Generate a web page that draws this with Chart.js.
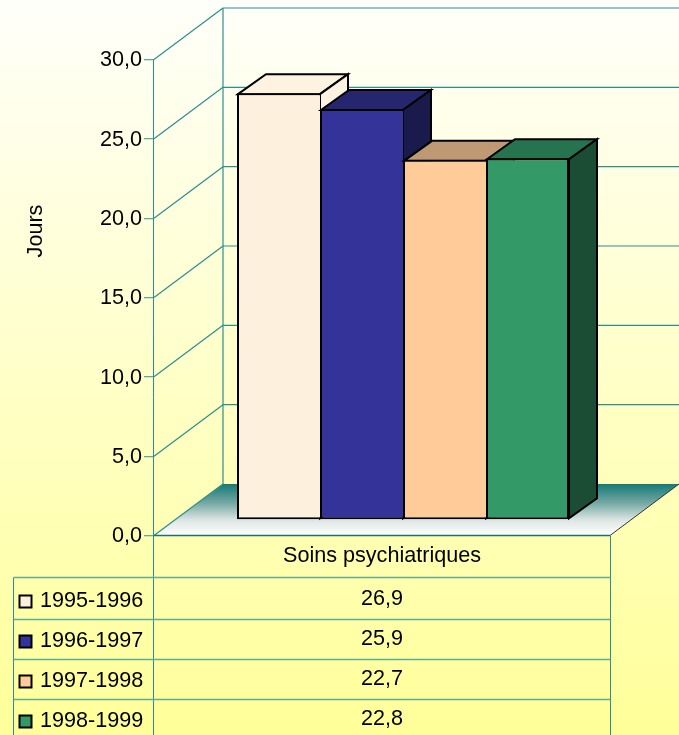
<!DOCTYPE html>
<html>
<head>
<meta charset="utf-8">
<style>
html,body{margin:0;padding:0;width:679px;height:735px;overflow:hidden;background:linear-gradient(to bottom,#FFFFFA 0%,#FFFF99 100%);}
canvas{display:block;}
</style>
<script src="https://cdn.jsdelivr.net/npm/chart.js@4"></script>
</head>
<body>
<canvas id="c" width="679" height="735"></canvas>
<script>
const categories = ['Soins psychiatriques'];
const seriesLabels = ['1995-1996','1996-1997','1997-1998','1998-1999'];
const values1995 = [26.9];
const values1996 = [25.9];
const values1997 = [22.7];
const values1998 = [22.8];
const yTitle = 'Jours';

const seriesValues = [values1995, values1996, values1997, values1998];
const frontColors = ['#FDF1DE','#333399','#FFCC99','#339966'];
const topColors   = ['#FDF3E0','#26266F','#BF9973','#267350'];
const sideColors  = ['#FDF3E0','#1A1A4D','#80664D','#1A4D33'];

const FAMILY = '"Liberation Sans", Arial, sans-serif';
const SIZE = 21.6;
const FONT = SIZE + 'px ' + FAMILY;
const TEAL = '#2A8F8F';
const TABLE = '#5FAA98';
const WALL_DX = 69, WALL_DY = -51.5;    // depth of the chart box
const BAR_DX = 28, BAR_DY = -20;        // depth of one bar
const SHIFT_X = 21, SHIFT_Y = -15.5;    // bars stand mid-way on the floor
const fmt = v => v.toFixed(1).replace('.', ',');

function line(ctx, x1, y1, x2, y2) {
  ctx.beginPath(); ctx.moveTo(x1, y1); ctx.lineTo(x2, y2); ctx.stroke();
}
function poly(ctx, pts, fill) {
  ctx.beginPath();
  pts.forEach((p, i) => i ? ctx.lineTo(p[0], p[1]) : ctx.moveTo(p[0], p[1]));
  ctx.closePath();
  ctx.fillStyle = fill; ctx.fill();
  ctx.strokeStyle = '#000'; ctx.lineWidth = 2; ctx.lineJoin = 'miter'; ctx.stroke();
}
function drawFaces(chart, i) {
  const { ctx } = chart;
  chart.getDatasetMeta(i).data.forEach(b => {
    const l = b.x - b.width / 2, r = b.x + b.width / 2;
    const t = b.y, bot = b.base;
    poly(ctx, [[l + 1, t + 1], [l + 1 + BAR_DX, t + 1 + BAR_DY], [r + BAR_DX, t + 1 + BAR_DY], [r, t + 1]], topColors[i]);
    poly(ctx, [[r, t + 1], [r + BAR_DX, t + 1 + BAR_DY], [r + BAR_DX, bot - 1 + BAR_DY], [r, bot - 1]], sideColors[i]);
  });
}

const box3d = {
  id: 'box3d',
  beforeDatasetsDraw(chart) {
    const { ctx, chartArea: a, scales: { y } } = chart;
    ctx.save();
    const y0 = y.getPixelForValue(0);
    // floor
    const g = ctx.createLinearGradient(0, y0 + WALL_DY, 0, y0);
    g.addColorStop(0, '#167A78');
    g.addColorStop(0.35, '#6FA5A0');
    g.addColorStop(0.7, '#DDE6E4');
    g.addColorStop(1, '#FFFFFF');
    ctx.beginPath();
    ctx.moveTo(a.left, y0);
    ctx.lineTo(a.left + WALL_DX, y0 + WALL_DY);
    ctx.lineTo(a.right + WALL_DX, y0 + WALL_DY);
    ctx.lineTo(a.right, y0);
    ctx.closePath();
    ctx.fillStyle = g; ctx.fill();
    // walls
    ctx.strokeStyle = TEAL; ctx.lineWidth = 1.2;
    y.ticks.forEach(t => {
      const p = y.getPixelForValue(t.value);
      if (t.value !== 0) {
        line(ctx, a.left, p, a.left + WALL_DX, p + WALL_DY);
        line(ctx, a.left + WALL_DX, p + WALL_DY, a.right + WALL_DX, p + WALL_DY);
      }
    });
    line(ctx, a.left + WALL_DX, a.top + WALL_DY, a.left + WALL_DX, y0 + WALL_DY);
    line(ctx, a.left, y0, a.left + WALL_DX, y0 + WALL_DY);
    ctx.strokeStyle = '#333'; ctx.lineWidth = 1;
    line(ctx, a.right, y0, a.right + WALL_DX, y0 + WALL_DY);
    ctx.restore();
    // the bars stand inside the box, painted left to right so that each hides the previous side
    ctx.save();
    ctx.translate(SHIFT_X, SHIFT_Y);
    seriesLabels.forEach((s, i) => {
      drawFaces(chart, i);
      chart.getDatasetMeta(i).controller.draw();
    });
    ctx.restore();
    return false;
  },
  afterDraw(chart) {
    const { ctx, chartArea: a, scales: { y } } = chart;
    const H = chart.height;
    const y0 = y.getPixelForValue(0);
    const rows = [577.5, 619.5, 659.5, 699.5];
    const swatchTops = [595.5, 635.5, 675.5, 715.5];
    const labelYs = [601, 641, 681, 721];
    const valueYs = [599.5, 639.5, 679.5, 719.5];
    const tableLeft = 13.5;
    ctx.save();
    // bottom edge of the floor
    ctx.strokeStyle = '#1F6F6B'; ctx.lineWidth = 1.6;
    line(ctx, a.left, y0, a.right, y0);
    // axis and table frame
    ctx.strokeStyle = TEAL; ctx.lineWidth = 1;
    line(ctx, a.left - 0.5, a.top, a.left - 0.5, H);
    line(ctx, a.right + 0.5, y0, a.right + 0.5, H);
    line(ctx, tableLeft, rows[0], tableLeft, H);
    ctx.strokeStyle = TABLE; ctx.lineWidth = 1.3;
    rows.forEach(r => line(ctx, tableLeft, r, a.right + 0.5, r));
    // table content
    ctx.font = FONT; ctx.textBaseline = 'middle';
    seriesLabels.forEach((s, i) => {
      ctx.fillStyle = frontColors[i];
      ctx.strokeStyle = '#000'; ctx.lineWidth = 2;
      ctx.fillRect(19.5, swatchTops[i], 12, 12);
      ctx.strokeRect(19.5, swatchTops[i], 12, 12);
      ctx.fillStyle = '#000';
      ctx.textAlign = 'left';
      ctx.fillText(s, 40, labelYs[i]);
      ctx.textAlign = 'center';
      ctx.fillText(fmt(seriesValues[i][0]), (a.left + a.right) / 2, valueYs[i]);
    });
    // axis title
    ctx.translate(36, 231);
    ctx.rotate(-Math.PI / 2);
    ctx.textAlign = 'center';
    ctx.fillText(yTitle, 0, 0);
    ctx.restore();
  }
};

new Chart(document.getElementById('c'), {
  type: 'bar',
  data: {
    labels: categories,
    datasets: seriesLabels.map((s, i) => ({
      label: s,
      data: seriesValues[i],
      backgroundColor: frontColors[i],
      borderColor: '#000',
      borderWidth: { top: 2, left: 2, bottom: 2, right: i === seriesLabels.length - 1 ? 2 : 0 },
      borderSkipped: false,
      clip: false
    }))
  },
  plugins: [box3d],
  options: {
    responsive: false,
    animation: false,
    devicePixelRatio: 1,
    layout: { padding: { left: 0, top: 59.5, right: 69, bottom: 0 } },
    datasets: { bar: { categoryPercentage: 332 / 456, barPercentage: 1 } },
    plugins: { legend: { display: false }, tooltip: { enabled: false }, title: { display: false } },
    scales: {
      x: {
        afterFit: s => { s.height = 199.5; },
        grid: { display: false },
        border: { display: false },
        ticks: { color: '#000', font: { family: FAMILY, size: SIZE }, padding: 0, maxRotation: 0 }
      },
      y: {
        min: 0, max: 30,
        afterFit: s => { s.width = 154; },
        grid: { drawOnChartArea: false, color: TABLE, tickLength: 10, lineWidth: 1.3 },
        border: { display: false },
        ticks: {
          stepSize: 5, color: '#000', padding: 2, labelOffset: 1,
          font: { family: FAMILY, size: SIZE },
          callback: v => fmt(v)
        }
      }
    }
  }
});
</script>
</body>
</html>
